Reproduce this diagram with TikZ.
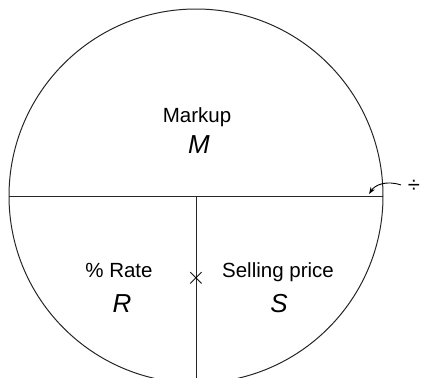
\documentclass[tikz,border=0pt]{standalone}
\usepackage{fontspec}
\setmainfont{Liberation Sans}
\usetikzlibrary{arrows.meta}
\begin{document}
\begin{tikzpicture}[x=1pt,y=-1pt,
  lbl/.style={anchor=base,inner sep=0pt,font=\fontsize{20.5}{22}\selectfont},
  sym/.style={anchor=base,inner sep=0pt,font=\fontsize{26}{28}\selectfont\itshape},
  op/.style={inner sep=0pt},
  ln/.style={line width=1pt,draw=black!85}]
\useasboundingbox (0,0) rectangle (421,378);
\clip (0,0) rectangle (421,378);
\coordinate (c) at (196,196);
\coordinate (l) at (9,196);
\coordinate (r) at (383,196);
\coordinate (b) at (196,378);
\draw[ln] (c) circle[radius=187];
\draw[ln] (l) -- (r);
\draw[ln] (c) -- (b);
\node[lbl] (markup) at (197,122) {Markup};
\node[sym] (M) at (199,153) {M};
\node[lbl] (rate) at (119,277) {\% Rate};
\node[sym] (R) at (122,312) {R};
\node[lbl] (sell) at (278,277) {Selling price};
\node[sym] (S) at (279,312) {S};
\node[op,font=\fontsize{31}{33}\selectfont] (times) at (196,278) {$\times$};
\node[op,font=\fontsize{22}{24}\selectfont] (div) at (414,186) {÷};
\coordinate (ta) at (401,185);
\coordinate (tb) at (369,194);
\draw[line width=0.9pt,-{Stealth[length=7pt,width=5pt]}] (ta) .. controls (386,180) and (375,185) .. (tb);
\end{tikzpicture}
\end{document}
